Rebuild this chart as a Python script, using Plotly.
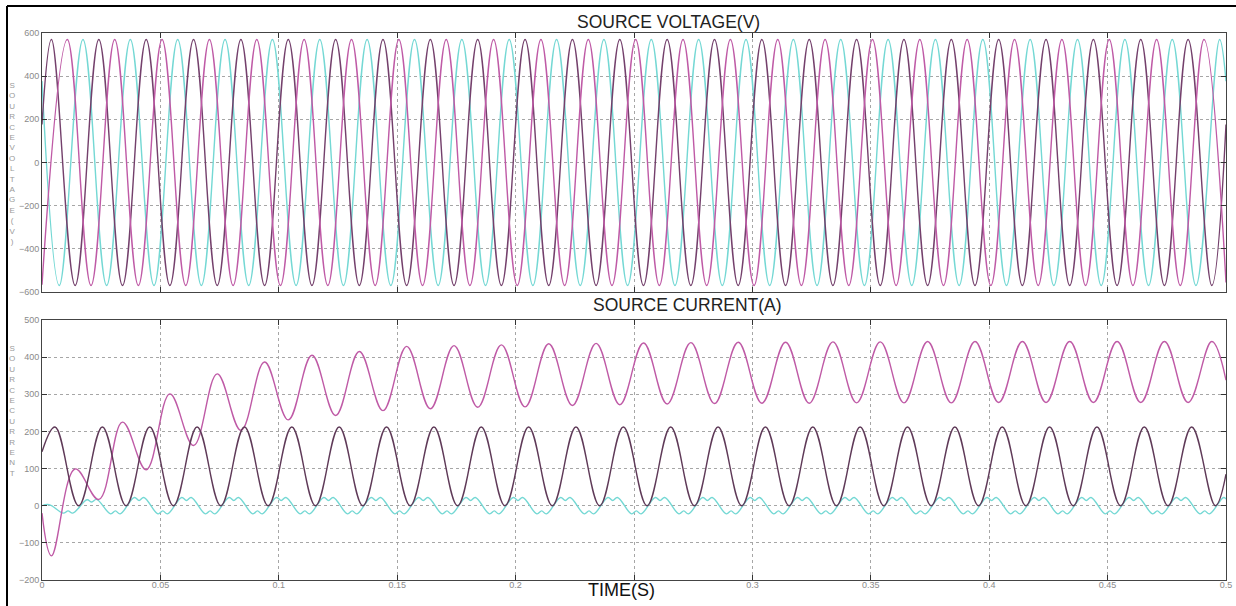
import plotly.graph_objects as go

# ---------------- data ----------------
# time axis ticks (the 0.25 label is hidden under the TIME(S) label in the reference)
x_ticks = [0, 0.05, 0.1, 0.15, 0.2, 0.25, 0.3, 0.35, 0.4, 0.45, 0.5]
x_tick_text = ["0", "0.05", "0.1", "0.15", "0.2", "", "0.3", "0.35", "0.4", "0.45", "0.5"]
v_ticks = [-600, -400, -200, 0, 200, 400, 600]
i_ticks = [-200, -100, 0, 100, 200, 300, 400, 500]

# SOURCE VOLTAGE - phase A (dark purple): start, peaks / troughs, end
t_va = [0, 0.004, 0.014, 0.024, 0.034, 0.044, 0.054, 0.064, 0.074, 0.084, 0.094,
        0.104, 0.114, 0.124, 0.134, 0.144, 0.154, 0.164, 0.174, 0.184, 0.194,
        0.204, 0.214, 0.224, 0.234, 0.244, 0.254, 0.264, 0.274, 0.284, 0.294,
        0.304, 0.314, 0.324, 0.334, 0.344, 0.354, 0.364, 0.374, 0.384, 0.394,
        0.404, 0.414, 0.424, 0.434, 0.444, 0.454, 0.464, 0.474, 0.484, 0.494, 0.5]
v_a = [176, 570, -570, 570, -570, 570, -570, 570, -570, 570, -570,
       570, -570, 570, -570, 570, -570, 570, -570, 570, -570,
       570, -570, 570, -570, 570, -570, 570, -570, 570, -570,
       570, -570, 570, -570, 570, -570, 570, -570, 570, -570,
       570, -570, 570, -570, 570, -570, 570, -570, 570, -570, 176]

# phase B (magenta)
t_vb = [0, 0.0107, 0.0207, 0.0307, 0.0407, 0.0507, 0.0607, 0.0707, 0.0807, 0.0907,
        0.1007, 0.1107, 0.1207, 0.1307, 0.1407, 0.1507, 0.1607, 0.1707, 0.1807, 0.1907,
        0.2007, 0.2107, 0.2207, 0.2307, 0.2407, 0.2507, 0.2607, 0.2707, 0.2807, 0.2907,
        0.3007, 0.3107, 0.3207, 0.3307, 0.3407, 0.3507, 0.3607, 0.3707, 0.3807, 0.3907,
        0.4007, 0.4107, 0.4207, 0.4307, 0.4407, 0.4507, 0.4607, 0.4707, 0.4807, 0.4907, 0.5]
v_b = [-566, 570, -570, 570, -570, 570, -570, 570, -570, 570,
       -570, 570, -570, 570, -570, 570, -570, 570, -570, 570,
       -570, 570, -570, 570, -570, 570, -570, 570, -570, 570,
       -570, 570, -570, 570, -570, 570, -570, 570, -570, 570,
       -570, 570, -570, 570, -570, 570, -570, 570, -570, 570, -556]

# phase C (cyan)
t_vc = [0, 0.0073, 0.0173, 0.0273, 0.0373, 0.0473, 0.0573, 0.0673, 0.0773, 0.0873, 0.0973,
        0.1073, 0.1173, 0.1273, 0.1373, 0.1473, 0.1573, 0.1673, 0.1773, 0.1873, 0.1973,
        0.2073, 0.2173, 0.2273, 0.2373, 0.2473, 0.2573, 0.2673, 0.2773, 0.2873, 0.2973,
        0.3073, 0.3173, 0.3273, 0.3373, 0.3473, 0.3573, 0.3673, 0.3773, 0.3873, 0.3973,
        0.4073, 0.4173, 0.4273, 0.4373, 0.4473, 0.4573, 0.4673, 0.4773, 0.4873, 0.4973, 0.5]
v_c = [377, -570, 570, -570, 570, -570, 570, -570, 570, -570, 570,
       -570, 570, -570, 570, -570, 570, -570, 570, -570, 570,
       -570, 570, -570, 570, -570, 570, -570, 570, -570, 570,
       -570, 570, -570, 570, -570, 570, -570, 570, -570, 570,
       -570, 570, -570, 570, -570, 570, -570, 570, -570, 570, 377]

# SOURCE CURRENT - magenta trace (transient then steady 278..442)
t_im = t_va
i_m = [-20, -135, 99, 17, 225, 97, 301, 162, 355, 203, 387,
       231, 405, 243, 415, 256, 429, 261, 431, 265, 433,
       266, 436, 270, 437, 272, 438, 274, 439, 275, 440,
       276, 440, 276, 441, 277, 441, 277, 442, 277, 442,
       278, 442, 278, 442, 278, 442, 278, 442, 278, 442, 338]

# dark trace (0..212)
t_id = [0, 0.0055, 0.0155, 0.0255, 0.0355, 0.0455, 0.0555, 0.0655, 0.0755, 0.0855, 0.0955,
        0.1055, 0.1155, 0.1255, 0.1355, 0.1455, 0.1555, 0.1655, 0.1755, 0.1855, 0.1955,
        0.2055, 0.2155, 0.2255, 0.2355, 0.2455, 0.2555, 0.2655, 0.2755, 0.2855, 0.2955,
        0.3055, 0.3155, 0.3255, 0.3355, 0.3455, 0.3555, 0.3655, 0.3755, 0.3855, 0.3955,
        0.4055, 0.4155, 0.4255, 0.4355, 0.4455, 0.4555, 0.4655, 0.4755, 0.4855, 0.4955, 0.5]
i_d = [145, 212, 0, 212, 0, 212, 0, 212, 0, 212, 0,
       212, 0, 212, 0, 212, 0, 212, 0, 212, 0,
       212, 0, 212, 0, 212, 0, 212, 0, 212, 0,
       212, 0, 212, 0, 212, 0, 212, 0, 212, 0,
       212, 0, 212, 0, 212, 0, 212, 0, 212, 0, 85]

# cyan trace (small stepped ripple around 0)
t_ic = [0, 0.003,
        0.009, 0.011, 0.013, 0.019, 0.021, 0.023,
        0.029, 0.031, 0.033, 0.039, 0.041, 0.043,
        0.049, 0.051, 0.053, 0.059, 0.061, 0.063,
        0.069, 0.071, 0.073, 0.079, 0.081, 0.083,
        0.089, 0.091, 0.093, 0.099, 0.101, 0.103,
        0.109, 0.111, 0.113, 0.119, 0.121, 0.123,
        0.129, 0.131, 0.133, 0.139, 0.141, 0.143,
        0.149, 0.151, 0.153, 0.159, 0.161, 0.163,
        0.169, 0.171, 0.173, 0.179, 0.181, 0.183,
        0.189, 0.191, 0.193, 0.199, 0.201, 0.203,
        0.209, 0.211, 0.213, 0.219, 0.221, 0.223,
        0.229, 0.231, 0.233, 0.239, 0.241, 0.243,
        0.249, 0.251, 0.253, 0.259, 0.261, 0.263,
        0.269, 0.271, 0.273, 0.279, 0.281, 0.283,
        0.289, 0.291, 0.293, 0.299, 0.301, 0.303,
        0.309, 0.311, 0.313, 0.319, 0.321, 0.323,
        0.329, 0.331, 0.333, 0.339, 0.341, 0.343,
        0.349, 0.351, 0.353, 0.359, 0.361, 0.363,
        0.369, 0.371, 0.373, 0.379, 0.381, 0.383,
        0.389, 0.391, 0.393, 0.399, 0.401, 0.403,
        0.409, 0.411, 0.413, 0.419, 0.421, 0.423,
        0.429, 0.431, 0.433, 0.439, 0.441, 0.443,
        0.449, 0.451, 0.453, 0.459, 0.461, 0.463,
        0.469, 0.471, 0.473, 0.479, 0.481, 0.483,
        0.489, 0.491, 0.493, 0.499, 0.5]
i_c = [0, 3,
       -20, -14, -20, 16, 10, 17,
       -22, -14, -22, 22, 14, 22,
       -22, -14, -22, 22, 14, 22,
       -22, -14, -22, 22, 14, 22,
       -22, -14, -22, 22, 14, 22,
       -22, -14, -22, 22, 14, 22,
       -22, -14, -22, 22, 14, 22,
       -22, -14, -22, 22, 14, 22,
       -22, -14, -22, 22, 14, 22,
       -22, -14, -22, 22, 14, 22,
       -22, -14, -22, 22, 14, 22,
       -22, -14, -22, 22, 14, 22,
       -22, -14, -22, 22, 14, 22,
       -22, -14, -22, 22, 14, 22,
       -22, -14, -22, 22, 14, 22,
       -22, -14, -22, 22, 14, 22,
       -22, -14, -22, 22, 14, 22,
       -22, -14, -22, 22, 14, 22,
       -22, -14, -22, 22, 14, 22,
       -22, -14, -22, 22, 14, 22,
       -22, -14, -22, 22, 14, 22,
       -22, -14, -22, 22, 14, 22,
       -22, -14, -22, 22, 14, 22,
       -22, -14, -22, 22, 14, 22,
       -22, -14, -22, 22, 18]

# ---------------- styles ----------------
C_DARK = "#74406c"
C_MAG = "#bf5aa6"
C_CYAN = "#74d8d4"
LW = 1.4

fig = go.Figure()

def add(x, y, color, xa, ya):
    fig.add_trace(go.Scatter(x=x, y=y, mode="lines", xaxis=xa, yaxis=ya,
                             line=dict(color=color, width=LW, shape="spline", smoothing=1.1),
                             hoverinfo="skip", showlegend=False))

add(t_vc, v_c, C_CYAN, "x", "y")
add(t_va, v_a, C_DARK, "x", "y")
add(t_vb, v_b, C_MAG, "x", "y")

add(t_ic, i_c, C_CYAN, "x2", "y2")
add(t_im, i_m, C_MAG, "x2", "y2")
add(t_id, i_d, "#5f3a58", "x2", "y2")

W, H = 1236, 606
xd = [42 / W, 1226 / W]

tick_font = dict(family="Liberation Sans", size=9, color="#8a8a8a")
axis_common = dict(
    showline=True, linecolor="#444", linewidth=1, mirror="ticks",
    ticks="inside", ticklen=5, tickcolor="#333", tickwidth=1,
    showgrid=True, gridcolor="#a6a6a6", griddash="dot", gridwidth=1,
    zeroline=False, automargin=False, ticklabeloverflow="allow",
    tickfont=tick_font,
)

fig.update_layout(
    width=W, height=H, autosize=False,
    margin=dict(l=0, r=0, t=0, b=0),
    paper_bgcolor="white", plot_bgcolor="white",
    xaxis=dict(domain=xd, range=[0, 0.5], anchor="y", tickvals=x_ticks,
               showticklabels=False, **axis_common),
    yaxis=dict(domain=[(H - 292) / H, (H - 33) / H], range=[-600, 600], anchor="x",
               tickvals=v_ticks, **axis_common),
    xaxis2=dict(domain=xd, range=[0, 0.5], anchor="y2", tickvals=x_ticks,
                ticktext=x_tick_text, ticklabelstandoff=-4, **axis_common),
    yaxis2=dict(domain=[(H - 580) / H, (H - 320) / H], range=[-200, 500], anchor="x2",
                tickvals=i_ticks, **axis_common),
)

title_font = dict(family="Liberation Sans", size=17.5, color="#222")
fig.add_annotation(text="SOURCE VOLTAGE(V)", xref="paper", yref="paper",
                   x=668 / W, y=(H - 22) / H, showarrow=False, font=title_font,
                   xanchor="center", yanchor="middle")
fig.add_annotation(text="SOURCE CURRENT(A)", xref="paper", yref="paper",
                   x=687 / W, y=(H - 305) / H, showarrow=False, font=title_font,
                   xanchor="center", yanchor="middle")
fig.add_annotation(text="TIME(S)", xref="paper", yref="paper",
                   x=621 / W, y=(H - 590) / H, showarrow=False,
                   font=dict(family="Liberation Sans", size=18, color="#111"),
                   xanchor="center", yanchor="middle")

ylab_font = dict(family="Liberation Sans", size=8, color="#9a9a9a")
fig.add_annotation(text="<br>".join(list("SOURCEVOLTAGE(V)")), xref="paper", yref="paper",
                   x=12 / W, y=(H - 163) / H, showarrow=False, font=ylab_font,
                   xanchor="center", yanchor="middle")
fig.add_annotation(text="<br>".join(list("SOURCECURRENT")), xref="paper", yref="paper",
                   x=12 / W, y=(H - 411) / H, showarrow=False, font=ylab_font,
                   xanchor="center", yanchor="middle")

# page border lines of the document screenshot
fig.add_shape(type="line", xref="paper", yref="paper", x0=7 / W, x1=1, y0=(H - 6) / H, y1=(H - 6) / H,
              line=dict(color="black", width=2))
fig.add_shape(type="line", xref="paper", yref="paper", x0=7 / W, x1=7 / W, y0=0, y1=(H - 6) / H,
              line=dict(color="black", width=2))

# remove the default page margin so the 1236x606 figure fills the window exactly
fig.write_html("out.html", config={"displayModeBar": False},
               post_script="document.body.style.margin='0';document.body.style.overflow='hidden';")
